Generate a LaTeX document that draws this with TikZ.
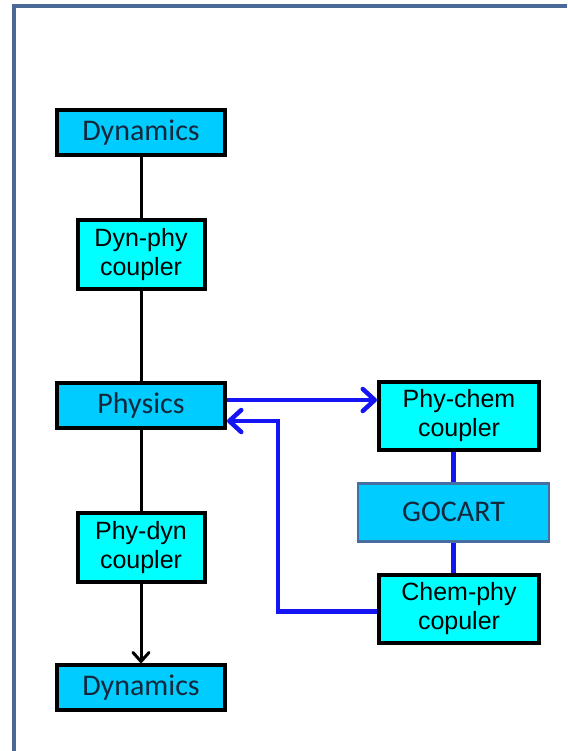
\documentclass[tikz,border=0pt]{standalone}
\usepackage{fontspec}
\setmainfont{Liberation Sans}
\newfontfamily\modelfont{Carlito}
\usetikzlibrary{arrows.meta}
\usetikzlibrary{positioning}
\definecolor{modelfill}{RGB}{0,204,255}
\definecolor{couplerfill}{RGB}{0,255,255}
\definecolor{modeltext}{RGB}{20,40,60}
\definecolor{framecol}{RGB}{75,105,150}
\definecolor{gocartedge}{RGB}{70,110,160}
\definecolor{linkblue}{RGB}{20,20,245}

\begin{document}
\begin{tikzpicture}[
            x=1pt, y=1pt,
            modelbox/.style = {draw, line width=4pt, fill=modelfill, text=modeltext, minimum width=168pt, minimum height=45pt, inner sep=0pt, font=\modelfont\fontsize{30}{32}\selectfont},
            couplerbox/.style = {draw, line width=4pt, fill=couplerfill, minimum width=127pt, minimum height=69pt, inner sep=0pt, align=center, font=\fontsize{25}{29}\selectfont},
            bluelink/.style = {draw=linkblue, line width=4.5pt},
            blacklink/.style = {line width=3pt}
          ]
          \useasboundingbox (0,0) rectangle (567,-751);
          \draw[framecol, line width=3.5pt] (14,-751) -- (14,-6) -- (567,-6);

          \node[modelbox] (dyn_1) at (141,-132.5) {Dynamics};
          \node[below=61pt of dyn_1, couplerbox] (couple_1) {Dyn-phy\\coupler};
          \node[below=90pt of couple_1, modelbox] (phys) {Physics};
          \node[below=81pt of phys, couplerbox] (couple_2) {Phy-dyn\\coupler};
          \node[below=79pt of couple_2, modelbox] (dyn_2) {Dynamics};

          \node[right=150pt of phys, yshift=-10.5pt, couplerbox, minimum width=160pt, minimum height=68pt] (chem_in) {Phy-chem\\coupler};
          \node[below=30pt of chem_in, xshift=-5.5pt, modelbox, draw=gocartedge, line width=2.5pt, minimum width=191pt, minimum height=58pt] (gocart) {GOCART};
          \node[below=30pt of gocart, xshift=5.5pt, couplerbox, minimum width=160pt, minimum height=68pt] (chem_out) {Chem-phy\\copuler};

          \draw[blacklink] (dyn_1) -- (couple_1);
          \draw[blacklink] (couple_1) -- (phys);
          \draw[blacklink] (phys) -- (couple_2);
          \draw[blacklink, -{Straight Barb[length=9pt, width=16pt, line width=3pt, round]}] (couple_2) -- (dyn_2);

          \draw[bluelink, -{Straight Barb[length=12pt, width=22pt, line width=4.5pt, round]}] ([yshift=5.5pt]phys.east) -- ([yshift=5.5pt]phys.east -| chem_in.west);
          \draw[bluelink] (chem_in.south -| gocart.north) -- (gocart.north);
          \draw[bluelink] (gocart.south) -- (gocart.south |- chem_out.north);
          \draw[bluelink, -{Straight Barb[length=12pt, width=22pt, line width=4.5pt, round]}] ([yshift=-3pt]chem_out.west) -- ++(-99,0) |- ([yshift=-15.5pt]phys.east);
        \end{tikzpicture}
\end{document}
